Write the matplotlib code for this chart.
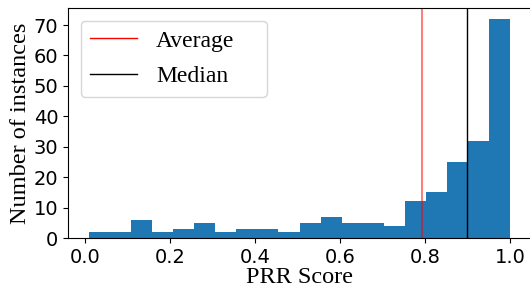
import matplotlib
matplotlib.use("Agg")
import matplotlib.pyplot as plt
import numpy as np

# histogram of PRR scores (20 bins between min and max score)
score_min = 0.01
score_max = 1.0
counts = [2, 2, 6, 2, 3, 5, 2, 3, 3, 2, 5, 7, 5, 5, 4, 12, 15, 25, 32, 72]
avg_score = 0.793
median_score = 0.90
x_ticks = [0.0, 0.2, 0.4, 0.6, 0.8, 1.0]
y_ticks = [0, 10, 20, 30, 40, 50, 60, 70]

edges = np.linspace(score_min, score_max, len(counts) + 1)
centers = (edges[:-1] + edges[1:]) / 2

fig = plt.figure(figsize=(5.3, 2.88), dpi=100)
ax = fig.add_axes([68 / 530, 50 / 288, 463 / 530, 230 / 288])

ax.hist(centers, bins=edges, weights=counts, color="#1f77b4")
ax.axvline(avg_score, color="red", alpha=0.5, linewidth=1.5, label="Average")
ax.axvline(median_score, color="black", linewidth=1, label="Median")

serif = "Liberation Serif"
ax.set_xlabel("PRR Score", fontfamily=serif, fontsize=17.5, labelpad=0)
ax.set_ylabel("Number of instances", fontfamily=serif, fontsize=17.5, labelpad=2)
ax.tick_params(labelsize=14)
ax.set_xticks(x_ticks)
ax.set_yticks(y_ticks)

# legend box stretched to the width seen in the original
leg = ax.legend(loc="upper left", prop={"family": serif, "size": 17},
                bbox_to_anchor=(0.027, 0.4, 0.403, 0.545), mode="expand",
                borderaxespad=0, labelspacing=0.6)
leg.get_lines()[0].set_alpha(1)
leg.get_lines()[0].set_linewidth(1)

fig.savefig("out.png", dpi=100)
